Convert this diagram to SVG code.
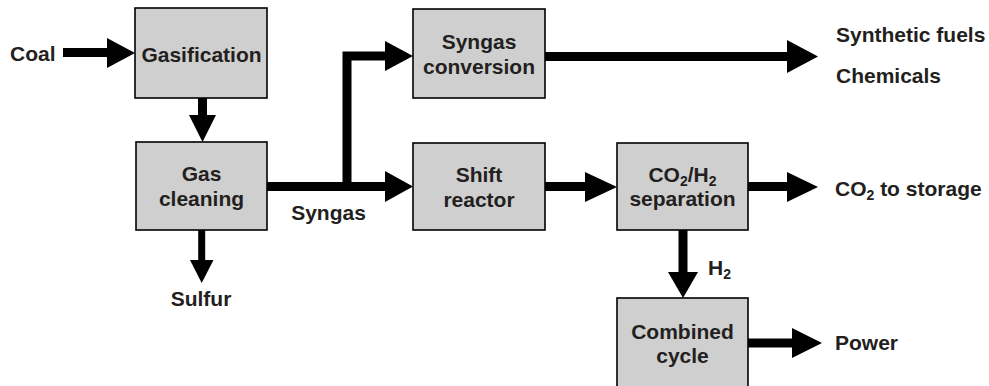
<svg xmlns="http://www.w3.org/2000/svg" width="989" height="386" viewBox="0 0 989 386">
  <style>
    .box { fill: #cfcfcf; stroke: #000; stroke-width: 1.6; }
    .lbl { font-family: "Liberation Sans", Arial, sans-serif; font-weight: bold; font-size: 21px; fill: #231f20; }
    .mid { text-anchor: middle; }
    .shaft { fill: none; stroke: #000; stroke-width: 9; stroke-linejoin: miter; }
    .thin { stroke-width: 7; }
    .head { fill: #000; }
    .sub { font-size: 14px; }
  </style>
  <rect width="989" height="386" fill="#fff"/>

  <!-- connectors: thick shafts with filled triangular heads -->
  <g id="connectors">
    <!-- Coal -> Gasification -->
    <path class="shaft" d="M63,52.5 H108"/>
    <polygon class="head" points="107,38 135,53 107,68"/>
    <!-- Gasification -> Gas cleaning -->
    <path class="shaft" d="M202.5,98 V116"/>
    <polygon class="head" points="189,115 216,115 202.5,142"/>
    <!-- Gas cleaning -> Sulfur -->
    <path class="shaft thin" d="M201.7,230 V261"/>
    <polygon class="head" points="190,260 213.5,260 201.7,283"/>
    <!-- Gas cleaning -> Shift reactor (syngas) -->
    <path class="shaft" d="M267,186.5 H386"/>
    <polygon class="head" points="385,171 413,186.5 385,202"/>
    <!-- Syngas branch -> Syngas conversion -->
    <path class="shaft" d="M347,191 V56 H386"/>
    <polygon class="head" points="385,41 413,56 385,71"/>
    <!-- Syngas conversion -> products -->
    <path class="shaft" d="M545,56.5 H788"/>
    <polygon class="head" points="787,40 818,56.5 787,73"/>
    <!-- Shift reactor -> CO2/H2 separation -->
    <path class="shaft" d="M545,186.5 H586"/>
    <polygon class="head" points="585,172 617,187 585,202"/>
    <!-- CO2/H2 separation -> CO2 to storage -->
    <path class="shaft" d="M748,186.5 H788"/>
    <polygon class="head" points="787,172 818,187 787,202"/>
    <!-- CO2/H2 separation -> Combined cycle (H2) -->
    <path class="shaft" d="M683,230 V273"/>
    <polygon class="head" points="668,272 698,272 683,298"/>
    <!-- Combined cycle -> Power -->
    <path class="shaft" d="M748,343 H793"/>
    <polygon class="head" points="792,328 822,343 792,358"/>
  </g>

  <g id="gasification">
    <rect class="box" x="135" y="8" width="132" height="90"/>
    <text class="lbl mid" x="201.5" y="62">Gasification</text>
  </g>

  <g id="gas-cleaning">
    <rect class="box" x="136" y="142" width="131" height="88"/>
    <text class="lbl mid" x="201.5" y="181">Gas</text>
    <text class="lbl mid" x="201.5" y="206">cleaning</text>
  </g>

  <g id="syngas-conversion">
    <rect class="box" x="413" y="9" width="132" height="89"/>
    <text class="lbl mid" x="479" y="49">Syngas</text>
    <text class="lbl mid" x="479" y="74">conversion</text>
  </g>

  <g id="shift-reactor">
    <rect class="box" x="413" y="143" width="132" height="87"/>
    <text class="lbl mid" x="479" y="182">Shift</text>
    <text class="lbl mid" x="479" y="207">reactor</text>
  </g>

  <g id="separation">
    <rect class="box" x="617" y="143" width="131" height="87"/>
    <text class="lbl mid" x="682.5" y="182">CO<tspan class="sub" dy="4">2</tspan><tspan dy="-4">/H</tspan><tspan class="sub" dy="4">2</tspan></text>
    <text class="lbl mid" x="682.5" y="206">separation</text>
  </g>

  <g id="combined-cycle">
    <rect class="box" x="617" y="298" width="131" height="100"/>
    <text class="lbl mid" x="682.5" y="339">Combined</text>
    <text class="lbl mid" x="682.5" y="363">cycle</text>
  </g>

  <!-- stream labels -->
  <g id="labels">
    <text class="lbl" x="10" y="61">Coal</text>
    <text class="lbl mid" x="328.5" y="220">Syngas</text>
    <text class="lbl mid" x="201" y="306">Sulfur</text>
    <text class="lbl" x="708" y="275">H<tspan class="sub" dy="4">2</tspan></text>
    <text class="lbl" x="836" y="42">Synthetic fuels</text>
    <text class="lbl" x="836" y="83">Chemicals</text>
    <text class="lbl" x="835" y="196">CO<tspan class="sub" dy="4">2</tspan><tspan dy="-4"> to storage</tspan></text>
    <text class="lbl" x="835" y="350">Power</text>
  </g>
</svg>
